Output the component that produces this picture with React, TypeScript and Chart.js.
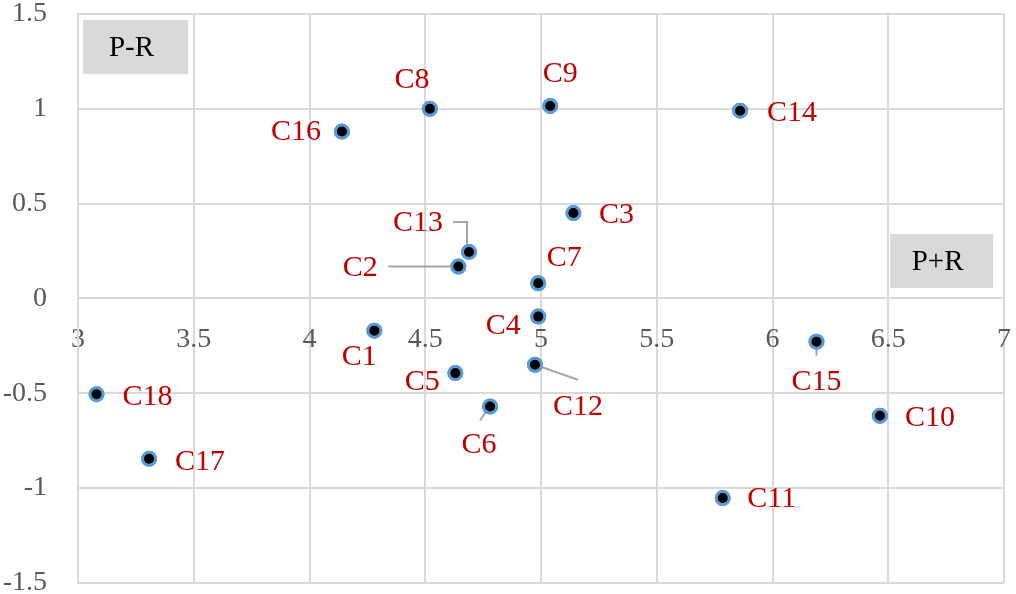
import React, { useEffect, useRef } from "react";
import { Chart, registerables } from "chart.js";

Chart.register(...registerables);

// ---- data ----
const pointLabels = ["C1", "C2", "C3", "C4", "C5", "C6", "C7", "C8", "C9", "C10", "C11", "C12", "C13", "C14", "C15", "C16", "C17", "C18"];
const xValues = [4.28, 4.643, 5.14, 4.988, 4.63, 4.78, 4.988, 4.52, 5.04, 6.464, 5.785, 4.974, 4.689, 5.86, 6.19, 4.14, 3.307, 3.08];
const yValues = [-0.17, 0.168, 0.45, -0.096, -0.394, -0.57, 0.08, 1.0, 1.015, -0.619, -1.053, -0.35, 0.245, 0.99, -0.228, 0.88, -0.846, -0.505];
const xTickValues = [3, 3.5, 4, 4.5, 5, 5.5, 6, 6.5, 7];
const yTickValues = [-1.5, -1, -0.5, 0, 0.5, 1, 1.5];
const quadrantNames = ["P-R", "P+R"];

// ---- styling (label placement relative to marker, in px) ----
const labelOffsets: [number, number][] = [
  [-15, 25], [-98, 1], [43, 1], [-35, 9], [-33, 8], [-11, 38], [26, -26], [-18, -30], [10, -33],
  [50, 1], [49, 0], [43, 41], [-51, -30], [52, 1], [0, 39], [-46, 0], [51, 2], [51, 2],
];
const leaderLines: Record<string, [number, number][]> = {
  C2: [[0, 0], [-70, 0]],
  C6: [[-2, 2], [-10, 14]],
  C12: [[0, 0], [43, 15]],
  C13: [[-2, -5], [-2, -30], [-16, -30]],
  C15: [[0, 2], [0, 14]],
};
// quadrant boxes in data coordinates [x1, x2, y1, y2]
const quadrantBoxes: [number, number, number, number][] = [
  [3.022, 3.475, 1.468, 1.183],
  [6.508, 6.953, 0.34, 0.055],
];

const SERIF = "'Liberation Serif', 'DejaVu Serif', serif";

const labelPlugin = {
  id: "pointLabels",
  beforeDatasetsDraw(chart: any) {
    const ctx = chart.ctx;
    const xs = chart.scales.x;
    const ys = chart.scales.y;
    ctx.save();
    quadrantBoxes.forEach((b, i) => {
      const x1 = xs.getPixelForValue(b[0]);
      const x2 = xs.getPixelForValue(b[1]);
      const y1 = ys.getPixelForValue(b[2]);
      const y2 = ys.getPixelForValue(b[3]);
      ctx.fillStyle = "#D9D9D9";
      ctx.fillRect(x1, y1, x2 - x1, y2 - y1);
      ctx.fillStyle = "#000000";
      ctx.font = `29px ${SERIF}`;
      ctx.textAlign = "center";
      ctx.textBaseline = "middle";
      ctx.fillText(quadrantNames[i], (x1 + x2) / 2 - 4, (y1 + y2) / 2 + 1);
    });
    ctx.restore();
  },
  afterDatasetsDraw(chart: any) {
    const ctx = chart.ctx;
    const meta = chart.getDatasetMeta(0);
    ctx.save();
    meta.data.forEach((el: any, i: number) => {
      const name = pointLabels[i];
      const lines = leaderLines[name];
      if (lines) {
        ctx.strokeStyle = "#A6A6A6";
        ctx.lineWidth = 2;
        ctx.beginPath();
        lines.forEach((p, j) => {
          if (j === 0) ctx.moveTo(el.x + p[0], el.y + p[1]);
          else ctx.lineTo(el.x + p[0], el.y + p[1]);
        });
        ctx.stroke();
      }
    });
    // redraw markers on top of leaders
    meta.data.forEach((el: any) => {
      ctx.beginPath();
      ctx.arc(el.x, el.y, 6.5, 0, Math.PI * 2);
      ctx.fillStyle = "#000000";
      ctx.fill();
      ctx.lineWidth = 3;
      ctx.strokeStyle = "#5B9BD5";
      ctx.stroke();
    });
    ctx.font = `30px ${SERIF}`;
    ctx.fillStyle = "#C00000";
    ctx.textAlign = "center";
    ctx.textBaseline = "middle";
    meta.data.forEach((el: any, i: number) => {
      const off = labelOffsets[i];
      ctx.fillText(pointLabels[i], el.x + off[0], el.y + off[1] + 1);
    });
    ctx.restore();
  },
};

export default function App() {
  const canvasRef = useRef<HTMLCanvasElement | null>(null);

  useEffect(() => {
    if (!canvasRef.current) return;
    const chart = new Chart(canvasRef.current, {
      type: "scatter",
      data: {
        datasets: [
          {
            label: "Points",
            data: xValues.map((x, i) => ({ x, y: yValues[i] })),
            backgroundColor: "#000000",
            borderColor: "#5B9BD5",
            borderWidth: 3,
            pointRadius: 6.5,
          },
        ],
      },
      options: {
        animation: false,
        responsive: true,
        maintainAspectRatio: false,
        layout: { padding: { left: 0, right: 12, top: 14, bottom: 11 } },
        plugins: {
          legend: { display: false },
          tooltip: { enabled: false },
        },
        scales: {
          x: {
            type: "linear",
            position: { y: 0 } as any,
            min: 3,
            max: 7,
            afterBuildTicks: (scale: any) => {
              scale.ticks = xTickValues.map((v) => ({ value: v }));
            },
            afterFit: (scale: any) => {
              scale.height = 0;
            },
            grid: { color: "#D9D9D9", lineWidth: 2, drawTicks: true, tickLength: 24, tickColor: "rgba(0,0,0,0)" },
            border: { color: "#D9D9D9", width: 2 },
            ticks: {
              color: "#595959",
              font: { family: SERIF, size: 28 },
              padding: 0,
              maxRotation: 0,
              autoSkip: false,
              callback: (v: any) => String(v),
            },
          },
          y: {
            type: "linear",
            min: -1.5,
            max: 1.5,
            afterBuildTicks: (scale: any) => {
              scale.ticks = yTickValues.map((v) => ({ value: v }));
            },
            afterFit: (scale: any) => {
              scale.width = 78;
            },
            grid: { color: "#D9D9D9", lineWidth: 2, drawTicks: true, tickLength: 31, tickColor: "rgba(0,0,0,0)" },
            border: { color: "#D9D9D9", width: 2 },
            ticks: {
              color: "#595959",
              font: { family: SERIF, size: 28, lineHeight: 0.8 },
              padding: 0,
              autoSkip: false,
              callback: (v: any) => String(v),
            },
          },
        },
      },
      plugins: [labelPlugin],
    });
    return () => chart.destroy();
  }, []);

  return (
    <div style={{ position: "fixed", left: 0, top: 0, width: 1016, height: 594, background: "#fff" }}>
      <canvas ref={canvasRef} />
    </div>
  );
}
